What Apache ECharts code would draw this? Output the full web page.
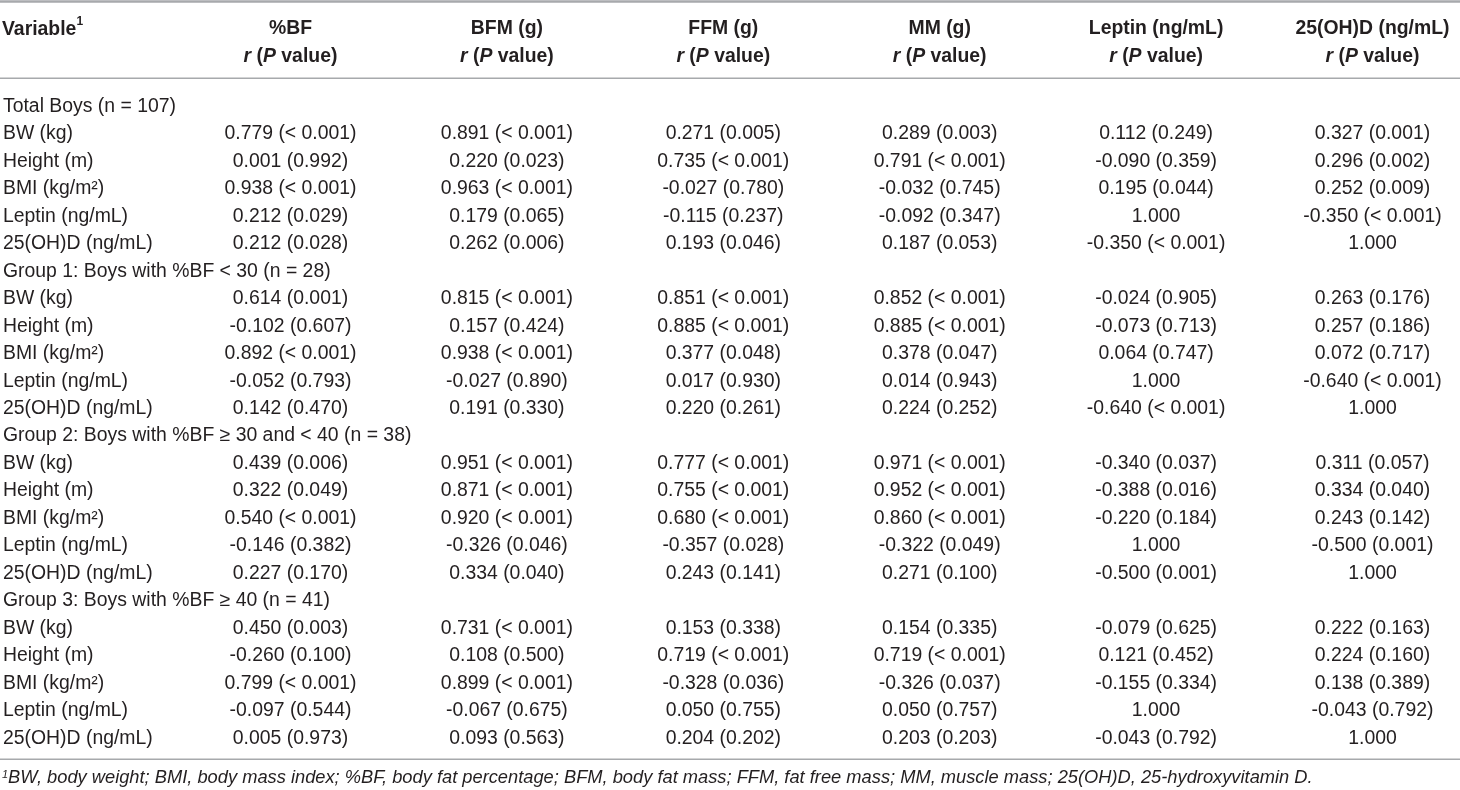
<!DOCTYPE html>
<html>
<head>
<meta charset="utf-8">
<script src="https://cdn.jsdelivr.net/npm/echarts@6/dist/echarts.min.js"></script>
<style>
html,body{margin:0;padding:0;background:#fff;}
#chart{width:1460px;height:790px;}
</style>
</head>
<body>
<div id="chart"></div>
<script>
// ---------- DATA ----------
const columns = ['%BF', 'BFM (g)', 'FFM (g)', 'MM (g)', 'Leptin (ng/mL)', '25(OH)D (ng/mL)'];
const rowLabels = [
  'Total Boys (n = 107)', 'BW (kg)', 'Height (m)', 'BMI (kg/m²)', 'Leptin (ng/mL)', '25(OH)D (ng/mL)',
  'Group 1: Boys with %BF < 30 (n = 28)', 'BW (kg)', 'Height (m)', 'BMI (kg/m²)', 'Leptin (ng/mL)', '25(OH)D (ng/mL)',
  'Group 2: Boys with %BF ≥ 30 and < 40 (n = 38)', 'BW (kg)', 'Height (m)', 'BMI (kg/m²)', 'Leptin (ng/mL)', '25(OH)D (ng/mL)',
  'Group 3: Boys with %BF ≥ 40 (n = 41)', 'BW (kg)', 'Height (m)', 'BMI (kg/m²)', 'Leptin (ng/mL)', '25(OH)D (ng/mL)'
];
const colBF = [
  null, '0.779 (< 0.001)', '0.001 (0.992)', '0.938 (< 0.001)', '0.212 (0.029)', '0.212 (0.028)',
  null, '0.614 (0.001)', '-0.102 (0.607)', '0.892 (< 0.001)', '-0.052 (0.793)', '0.142 (0.470)',
  null, '0.439 (0.006)', '0.322 (0.049)', '0.540 (< 0.001)', '-0.146 (0.382)', '0.227 (0.170)',
  null, '0.450 (0.003)', '-0.260 (0.100)', '0.799 (< 0.001)', '-0.097 (0.544)', '0.005 (0.973)'
];
const colBFM = [
  null, '0.891 (< 0.001)', '0.220 (0.023)', '0.963 (< 0.001)', '0.179 (0.065)', '0.262 (0.006)',
  null, '0.815 (< 0.001)', '0.157 (0.424)', '0.938 (< 0.001)', '-0.027 (0.890)', '0.191 (0.330)',
  null, '0.951 (< 0.001)', '0.871 (< 0.001)', '0.920 (< 0.001)', '-0.326 (0.046)', '0.334 (0.040)',
  null, '0.731 (< 0.001)', '0.108 (0.500)', '0.899 (< 0.001)', '-0.067 (0.675)', '0.093 (0.563)'
];
const colFFM = [
  null, '0.271 (0.005)', '0.735 (< 0.001)', '-0.027 (0.780)', '-0.115 (0.237)', '0.193 (0.046)',
  null, '0.851 (< 0.001)', '0.885 (< 0.001)', '0.377 (0.048)', '0.017 (0.930)', '0.220 (0.261)',
  null, '0.777 (< 0.001)', '0.755 (< 0.001)', '0.680 (< 0.001)', '-0.357 (0.028)', '0.243 (0.141)',
  null, '0.153 (0.338)', '0.719 (< 0.001)', '-0.328 (0.036)', '0.050 (0.755)', '0.204 (0.202)'
];
const colMM = [
  null, '0.289 (0.003)', '0.791 (< 0.001)', '-0.032 (0.745)', '-0.092 (0.347)', '0.187 (0.053)',
  null, '0.852 (< 0.001)', '0.885 (< 0.001)', '0.378 (0.047)', '0.014 (0.943)', '0.224 (0.252)',
  null, '0.971 (< 0.001)', '0.952 (< 0.001)', '0.860 (< 0.001)', '-0.322 (0.049)', '0.271 (0.100)',
  null, '0.154 (0.335)', '0.719 (< 0.001)', '-0.326 (0.037)', '0.050 (0.757)', '0.203 (0.203)'
];
const colLeptin = [
  null, '0.112 (0.249)', '-0.090 (0.359)', '0.195 (0.044)', '1.000', '-0.350 (< 0.001)',
  null, '-0.024 (0.905)', '-0.073 (0.713)', '0.064 (0.747)', '1.000', '-0.640 (< 0.001)',
  null, '-0.340 (0.037)', '-0.388 (0.016)', '-0.220 (0.184)', '1.000', '-0.500 (0.001)',
  null, '-0.079 (0.625)', '0.121 (0.452)', '-0.155 (0.334)', '1.000', '-0.043 (0.792)'
];
const colVitD = [
  null, '0.327 (0.001)', '0.296 (0.002)', '0.252 (0.009)', '-0.350 (< 0.001)', '1.000',
  null, '0.263 (0.176)', '0.257 (0.186)', '0.072 (0.717)', '-0.640 (< 0.001)', '1.000',
  null, '0.311 (0.057)', '0.334 (0.040)', '0.243 (0.142)', '-0.500 (0.001)', '1.000',
  null, '0.222 (0.163)', '0.224 (0.160)', '0.138 (0.389)', '-0.043 (0.792)', '1.000'
];
const headerTitle = 'Variable';
const footnote = 'BW, body weight; BMI, body mass index; %BF, body fat percentage; BFM, body fat mass; FFM, fat free mass; MM, muscle mass; 25(OH)D, 25-hydroxyvitamin D.';

// ---------- BUILD ----------
const allCols = [colBF, colBFM, colFFM, colMM, colLeptin, colVitD];
const cells = [];
allCols.forEach((col, ci) => {
  col.forEach((txt, ri) => { if (txt !== null) cells.push([ci, ri, txt]); });
});

const FONT = '"Liberation Sans", Arial, sans-serif';
const TXT = '#231f20';
const LINE = '#a7a9ac';
const FS = 19.4;
const GRID_LEFT = 289.5;

const chart = echarts.init(document.getElementById('chart'), null, {renderer: 'canvas'});
chart.setOption({
  animation: false,
  backgroundColor: '#fff',
  textStyle: {fontFamily: FONT},
  title: [
    {
      text: '{b|' + headerTitle + '}{s|1}',
      left: 2, top: 15.5, padding: 0,
      textStyle: {
        rich: {
          b: {fontFamily: FONT, fontSize: FS, fontWeight: 'bold', color: TXT, lineHeight: 28},
          s: {fontFamily: FONT, fontSize: 12, fontWeight: 'bold', color: TXT, verticalAlign: 'top', lineHeight: 22, padding: [0,0,6,0]}
        }
      }
    },
    {
      text: '{s|1}{t|' + footnote + '}',
      left: 2, top: 766, padding: 0,
      textStyle: {
        fontWeight: 'normal',
        rich: {
          t: {fontFamily: FONT, fontSize: 18.3, fontWeight: 'normal', fontStyle: 'italic', color: TXT, lineHeight: 24},
          s: {fontFamily: FONT, fontSize: 11, fontWeight: 'normal', fontStyle: 'italic', color: TXT, lineHeight: 18, padding: [0,0,6,0]}
        }
      }
    }
  ],
  grid: {left: GRID_LEFT, width: 1083, top: 92.8, height: 659.2, containLabel: false},
  xAxis: {
    type: 'category',
    data: columns,
    boundaryGap: false,
    position: 'top',
    offset: 13.5,
    axisLine: {show: false},
    axisTick: {show: false},
    splitLine: {show: false},
    axisLabel: {
      interval: 0,
      margin: 8.5,
      formatter: v => '{h|' + v + '}\n{i|r}{h| (}{i|P}{h| value)}',
      rich: {
        h: {fontFamily: FONT, fontSize: FS, fontWeight: 'bold', color: TXT, lineHeight: 28},
        i: {fontFamily: FONT, fontSize: FS, fontWeight: 'bold', fontStyle: 'italic', color: TXT, lineHeight: 28}
      }
    }
  },
  yAxis: {
    type: 'category',
    data: rowLabels,
    inverse: true,
    axisLine: {show: false},
    axisTick: {show: false},
    splitLine: {show: false},
    axisLabel: {
      interval: 0,
      align: 'left',
      margin: GRID_LEFT - 2,
      fontFamily: FONT,
      fontSize: FS,
      color: TXT
    }
  },
  series: [{
    type: 'scatter',
    data: cells,
    symbolSize: 0,
    silent: true,
    itemStyle: {opacity: 1, color: TXT},
    label: {
      show: true,
      position: 'inside',
      opacity: 1,
      formatter: p => p.value[2],
      fontFamily: FONT,
      fontSize: FS,
      color: TXT
    }
  }],
  graphic: [
    {type: 'line', shape: {x1: 0, y1: 1.5, x2: 1460, y2: 1.5}, style: {stroke: LINE, lineWidth: 2.5}, silent: true},
    {type: 'line', shape: {x1: 0, y1: 78.3, x2: 1460, y2: 78.3}, style: {stroke: LINE, lineWidth: 1.6}, silent: true},
    {type: 'line', shape: {x1: 0, y1: 759.3, x2: 1460, y2: 759.3}, style: {stroke: LINE, lineWidth: 1.6}, silent: true}
  ]
});
</script>
</body>
</html>
